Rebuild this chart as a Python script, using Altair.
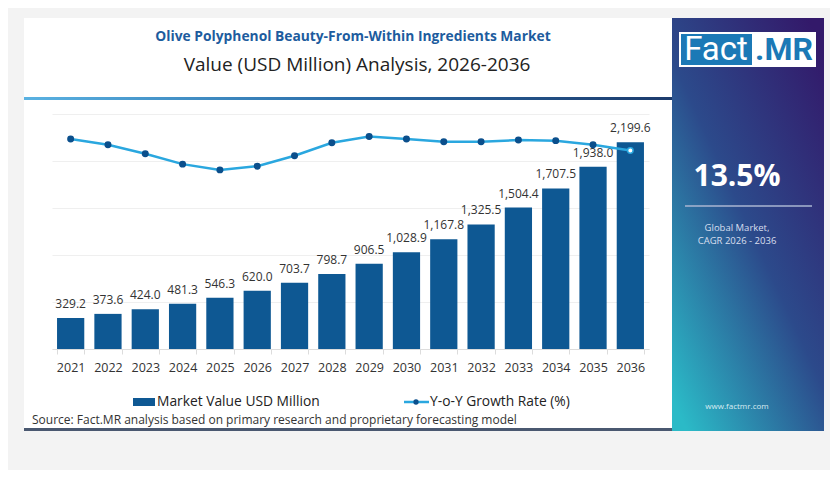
import altair as alt
import pandas as pd

# ---------------- data ----------------
years = ["2021", "2022", "2023", "2024", "2025", "2026", "2027", "2028",
         "2029", "2030", "2031", "2032", "2033", "2034", "2035", "2036"]
market_value = [329.2, 373.6, 424.0, 481.3, 546.3, 620.0, 703.7, 798.7,
                906.5, 1028.9, 1167.8, 1325.5, 1504.4, 1707.5, 1938.0, 2199.6]
yoy_growth = [14.02, 13.91, 13.74, 13.54, 13.43, 13.50, 13.70, 13.95,
              14.07, 14.02, 13.97, 13.97, 14.00, 13.99, 13.91, 13.80]

title_text = "Olive Polyphenol Beauty-From-Within Ingredients Market"
subtitle_text = "Value (USD Million) Analysis, 2026-2036"
legend_bar = "Market Value USD Million"
legend_line = "Y-o-Y Growth Rate (%)"
source_text = "Source: Fact.MR analysis based on primary research and proprietary forecasting model"
cagr_text = "13.5%"
cagr_lines = ["Global Market,", "CAGR 2026 - 2036"]
site_text = "www.factmr.com"

df = pd.DataFrame({"year": years, "value": market_value, "growth": yoy_growth})

# ---------------- style ----------------
FONT = "Open Sans"
BAR = "#0e5893"
LINE = "#2aa7df"
DOT = "#0b4f8c"
GRAY = "#f3f3f3"
OX, OY = 52, 114          # page position of plot origin
W, H = 597, 235

dummy = pd.DataFrame({"k": [0]})


def rect(x1, x2, y1, y2, **kw):
    return alt.Chart(dummy).mark_rect(**kw).encode(
        x=alt.value(x1 - OX), x2=alt.value(x2 - OX),
        y=alt.value(y1 - OY), y2=alt.value(y2 - OY))


def text(s, x, y, **kw):
    kw.setdefault("font", FONT)
    kw.setdefault("baseline", "middle")
    return alt.Chart(dummy).mark_text(text=s, **kw).encode(
        x=alt.value(x - OX), y=alt.value(y - OY))


def rule(x1, x2, y, **kw):
    return alt.Chart(dummy).mark_rule(**kw).encode(
        x=alt.value(x1 - OX), x2=alt.value(x2 - OX), y=alt.value(y - OY))


panel_grad = alt.LinearGradient(
    gradient="linear",
    stops=[alt.GradientStop(color="#33196a", offset=0),
           alt.GradientStop(color="#2c4a8b", offset=0.5),
           alt.GradientStop(color="#2bbac7", offset=1)],
    x1=0.9, y1=0, x2=0.1, y2=1)

divider_grad = alt.LinearGradient(
    gradient="linear",
    stops=[alt.GradientStop(color="#5ab2e2", offset=0),
           alt.GradientStop(color="#2a6ca8", offset=0.5),
           alt.GradientStop(color="#1c3b6c", offset=1)],
    x1=0, y1=0, x2=1, y2=0)

deco = [
    # grey page around the white card (chart background is white)
    rect(8, 830, 8, 18, color=GRAY),
    rect(8, 24, 8, 470, color=GRAY),
    rect(824, 830, 8, 470, color=GRAY),
    rect(8, 830, 431, 470, color=GRAY),
    rect(24, 672, 428, 431, color="#4a5870"),
    rect(672, 824, 18, 431, fill=panel_grad),
    rect(24, 672, 97, 100, fill=divider_grad),
    rect(679, 816, 32, 67, color="white"),
    rect(681, 752, 34, 65, color="#1b79b6"),
    rule(685, 812, 206, color="#aab6d2", strokeWidth=1.5),
    rect(133, 155, 398, 406, color=BAR),
    rule(404, 429, 402, color=LINE, strokeWidth=2.5),
    alt.Chart(dummy).mark_circle(size=28, color=DOT, opacity=1).encode(
        x=alt.value(416 - OX), y=alt.value(402 - OY)),
]

texts = [
    text(title_text, 353, 37, fontSize=13.8, fontWeight="bold", color="#1d5c9e", align="center"),
    text(subtitle_text, 357, 65, fontSize=19, color="#222222", align="center"),
    text("Fact", 716, 50, fontSize=33, color="white", align="center", font="Roboto"),
    text(".MR", 784, 50, fontSize=32, fontWeight="bold", color="#1b79b6", align="center", font="Roboto"),
    text(cagr_text, 737, 177, fontSize=30, fontWeight="bold", color="white", align="center"),
    text(cagr_lines[0], 737, 228, fontSize=9.5, color="#d8dfee", align="center"),
    text(cagr_lines[1], 737, 241, fontSize=9.5, color="#d8dfee", align="center"),
    text(site_text, 737, 407, fontSize=8, color="#d8ecf2", align="center"),
    text(legend_bar, 157, 402, fontSize=13.8, color="#222222", align="left"),
    text(legend_line, 430, 402, fontSize=13.8, color="#222222", align="left"),
    text(source_text, 32, 420, fontSize=12, color="#333333", align="left"),
]

# ---------------- chart ----------------
X = alt.X("year:N", title=None,
          scale=alt.Scale(paddingInner=0.27, paddingOuter=0.135),
          axis=alt.Axis(labelAngle=0, labelFont=FONT, labelFontSize=12.5,
                        labelColor="#333333", labelPadding=7,
                        domainColor="#dcdcdc", tickColor="#dcdcdc",
                        tickSize=5, tickBand="extent"))

Yv = alt.Y("value:Q", title=None, scale=alt.Scale(domain=[0, 2500]),
           axis=alt.Axis(grid=True, labels=False, ticks=False, domain=False,
                         values=[0, 500, 1000, 1500, 2000, 2500],
                         gridColor="#efefef"))

bars = alt.Chart(df).mark_bar(color=BAR).encode(x=X, y=Yv)

bar_labels = alt.Chart(df).mark_text(
    dy=-14, fontSize=12, color="#333333", font=FONT, baseline="middle"
).encode(x=X,
         y=alt.Y("value:Q", scale=alt.Scale(domain=[0, 2500]), axis=None),
         text=alt.Text("value:Q", format=",.1f"))

Yg = alt.Y("growth:Q", scale=alt.Scale(domain=[10, 14.5]), axis=None)

line = alt.Chart(df).mark_line(color=LINE, strokeWidth=2.5).encode(x=X, y=Yg)

points = alt.Chart(df).mark_circle(size=30, opacity=1, strokeWidth=1.5).encode(
    x=X, y=Yg,
    fill=alt.condition(alt.datum.year == "2036", alt.value("white"), alt.value(DOT)),
    stroke=alt.condition(alt.datum.year == "2036", alt.value(LINE), alt.value(DOT)),
)

chart = alt.layer(
    *deco, bars, bar_labels, line, points, *texts
).resolve_scale(y="independent").properties(
    width=W, height=H,
    autosize=alt.AutoSizeParams(type="none"),
    padding={"left": OX - 8, "top": OY - 8, "right": 822 - (OX - 8) - W, "bottom": 462 - (OY - 8) - H},
    background="white",
).configure_view(stroke=None)

chart.save("out.html", embed_options={"renderer": "svg", "actions": False})
